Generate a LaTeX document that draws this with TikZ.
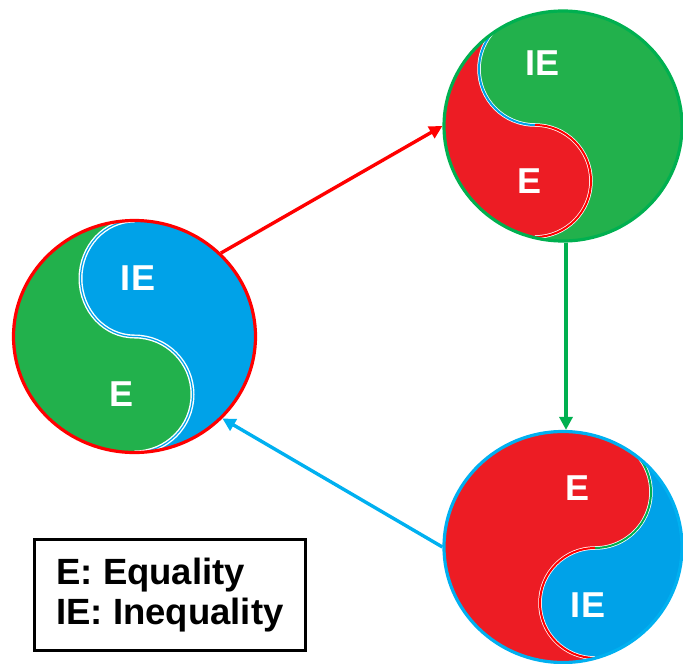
\documentclass[tikz,border=0pt]{standalone}
\usepackage{fontspec}
\setmainfont{Liberation Sans}
\usetikzlibrary{arrows.meta}
\usetikzlibrary{shapes.geometric}
\definecolor{eqred}{RGB}{237,28,36}
\definecolor{ineqblue}{RGB}{0,162,232}
\definecolor{eqgreen}{RGB}{34,177,76}
\definecolor{linered}{RGB}{255,0,0}
\definecolor{linegreen}{RGB}{0,176,80}
\definecolor{lineblue}{RGB}{0,176,240}

\begin{document}
\begin{tikzpicture}[x = 1pt, y = -1pt]
\tikzstyle{CircleStyle}=[shape = ellipse, inner sep = 0pt, line width = 3.2pt]
\tikzstyle{LabelStyle}=[text = white, inner sep = 0pt,
font = \fontsize{36}{36}\selectfont\bfseries]
\tikzstyle{EdgeStyle}=[line width = 3.4pt, -{Triangle[length = 13pt, width = 13pt]}]
\tikzstyle{SeamStyle}=[line width = 2pt]
\useasboundingbox (0,0) rectangle (683,664);
% left circle
\begin{scope}
\clip (134.5,336.5) ellipse [x radius = 120, y radius = 115];
\fill[ineqblue] (0,200) rectangle (270,470);
\fill[eqgreen] (134.5,336.5) arc[start angle = 90, end angle = 270, x radius = 54, y radius = 58]
  -- (134.5,200) -- (0,200) -- (0,470) -- (134.5,470) -- (134.5,452.5)
  arc[start angle = 90, end angle = -90, radius = 58] -- cycle;
\draw[white, line width = 4pt] (134.5,220.5) arc[start angle = 270, end angle = 90, x radius = 54, y radius = 58]
  arc[start angle = -90, end angle = 90, radius = 58];
\draw[ineqblue, line width = 1.2pt] (134.5,220.5) arc[start angle = 270, end angle = 90, x radius = 54, y radius = 58]
  arc[start angle = -90, end angle = 90, radius = 58];
\end{scope}
% top right circle
\begin{scope}
\clip (563,126) ellipse [x radius = 118, y radius = 114];
\fill[eqgreen] (430,0) rectangle (690,250);
\fill[eqred] (535,125) arc[start angle = 90, end angle = 225, radius = 56]
  -- (430,0) -- (430,250) -- (535,250) -- (535,237)
  arc[start angle = 90, end angle = -90, radius = 56] -- cycle;
\draw[white, line width = 3.5pt] (495.4,29.4) arc[start angle = 225, end angle = 90, radius = 56]
  arc[start angle = -90, end angle = 90, radius = 56];
\draw[SeamStyle, ineqblue] (495.4,29.4) arc[start angle = 225, end angle = 90, radius = 56];
\draw[SeamStyle, linered] (535,125) arc[start angle = -90, end angle = 90, radius = 56];
\end{scope}
% bottom right circle
\begin{scope}
\clip (563,547) ellipse [x radius = 118, y radius = 115];
\fill[eqred] (430,420) rectangle (690,680);
\fill[ineqblue] (595,548) arc[start angle = 90, end angle = -60, radius = 56]
  -- (700,420) -- (700,680) -- (595,680) -- (595,658)
  arc[start angle = 90, end angle = 270, radius = 55] -- cycle;
\draw[white, line width = 3.5pt] (623,443.5) arc[start angle = -60, end angle = 90, radius = 56]
  arc[start angle = 270, end angle = 90, radius = 55];
\draw[SeamStyle, linegreen] (595,548) arc[start angle = 90, end angle = -60, radius = 56];
\draw[SeamStyle, linered] (595,548) arc[start angle = 270, end angle = 90, radius = 55];
\end{scope}
\node[CircleStyle, draw = linered, minimum width = 242pt, minimum height = 232pt] (v0) at (134.5,336.5) {};
\node[CircleStyle, draw = linegreen, minimum width = 238pt, minimum height = 230pt] (v1) at (563,126) {};
\node[CircleStyle, draw = lineblue, minimum width = 238pt, minimum height = 231pt] (v2) at (563,547) {};
\node[LabelStyle] (l0) at (138,278) {IE};
\node[LabelStyle] (l1) at (121.5,394.5) {E};
\node[LabelStyle] (l2) at (542.5,63) {IE};
\node[LabelStyle] (l3) at (530,181) {E};
\node[LabelStyle] (l4) at (577,488.5) {E};
\node[LabelStyle] (l5) at (588,605) {IE};
\node[draw, line width = 3pt, minimum width = 271pt, minimum height = 111pt, align = left,
font = \fontsize{36.5}{40}\selectfont\bfseries] (key) at (170,595) {E: Equality\\IE: Inequality};
\draw[EdgeStyle, linered] (v0.44) -- (v1.west);
\draw[EdgeStyle, linegreen] ([xshift = 3pt]v1.south) -- ([xshift = 3pt]v2.north);
\draw[EdgeStyle, lineblue] (v2.west) -- (v0.-43);
\end{tikzpicture}
\end{document}
